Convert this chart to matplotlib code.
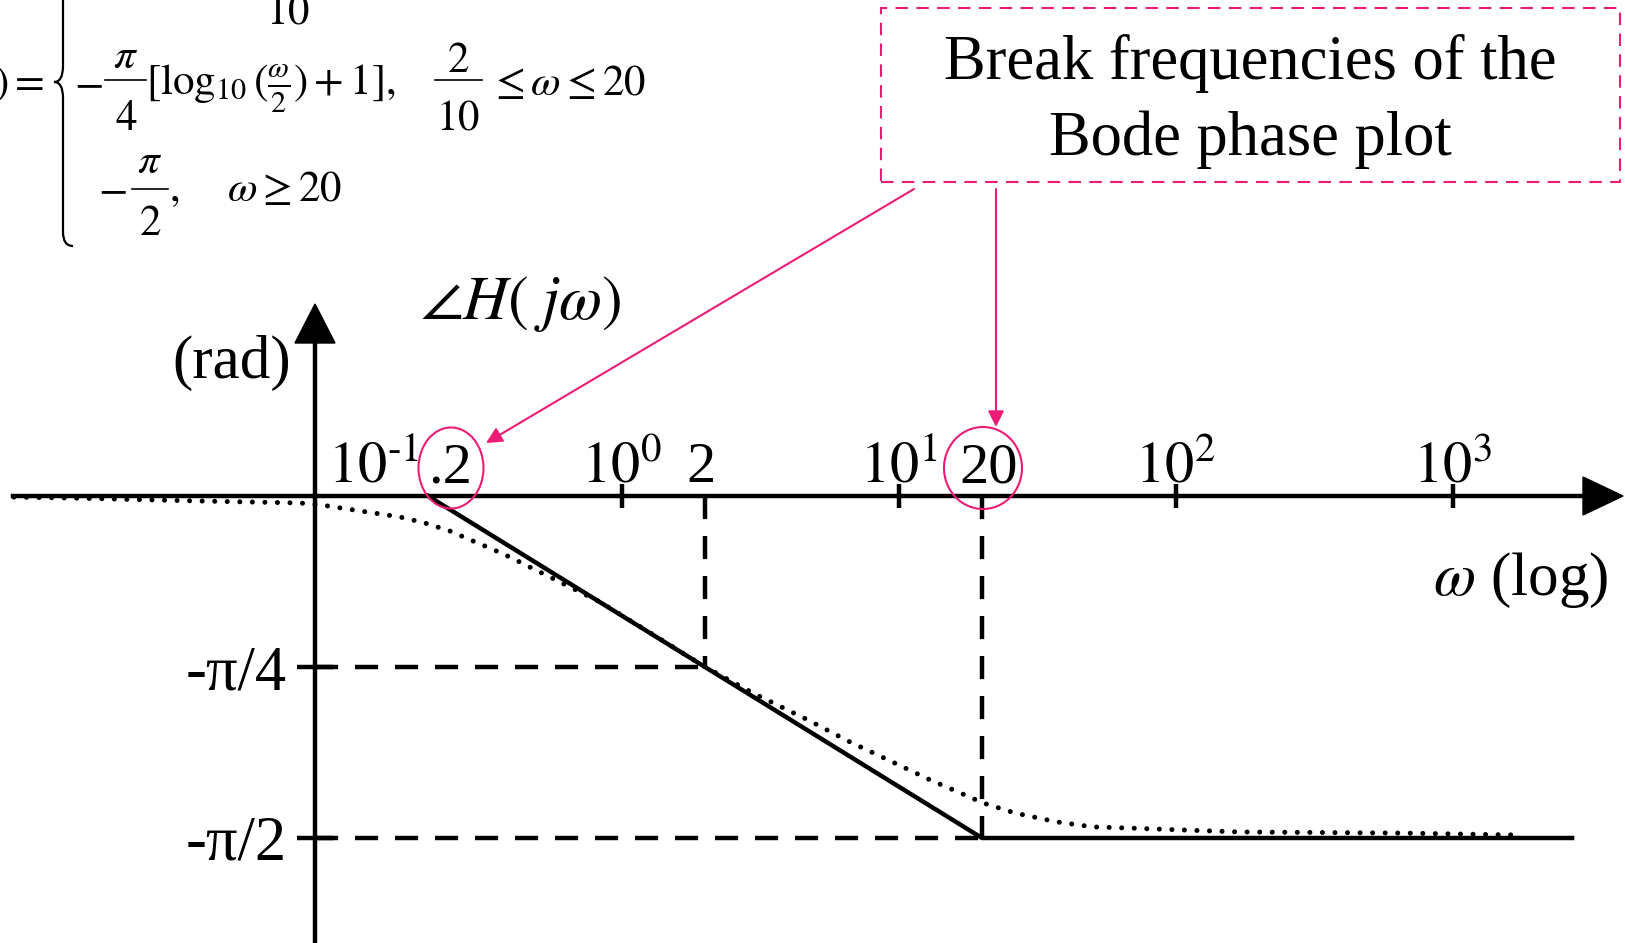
import numpy as np
import matplotlib.pyplot as plt
from matplotlib.ticker import NullLocator
from matplotlib.transforms import offset_copy
from matplotlib.lines import Line2D
from matplotlib.patches import Ellipse, Rectangle, Polygon, FancyArrowPatch, PathPatch
from matplotlib.path import Path

plt.rcParams['font.family'] = ['Liberation Serif', 'DejaVu Serif']
plt.rcParams['mathtext.fontset'] = 'stix'

# break frequencies of the phase plot and the straight-line approximation
w_break = [0.2, 2, 20]
w_asym = [0.2, 20, 2700]
phase_asym = [0, -np.pi / 2, -np.pi / 2]

# exact phase curve (dotted)
w_exact = [0.0064, 0.01, 0.03, 0.069, 0.082, 0.12, 0.158, 0.195, 0.24, 0.291,
           0.34, 0.402, 0.474, 0.561, 0.836, 1.27, 2.0, 2.98, 4.71, 6.56,
           9.16, 13.0, 16.7, 20.2, 26.3, 37.3, 50.3, 67.4, 169, 640, 1720]
phase_exact = [-0.005, -0.009, -0.023, -0.032, -0.041, -0.073, -0.096, -0.124,
               -0.161, -0.207, -0.243, -0.285, -0.331, -0.377, -0.487, -0.629,
               -0.785, -0.905, -1.029, -1.125, -1.212, -1.304, -1.364, -1.410,
               -1.456, -1.497, -1.520, -1.525, -1.543, -1.548, -1.557]

# axis ticks
w_ticks = [1, 10, 100, 1000]
phase_ticks = [-np.pi / 4, -np.pi / 2]
phase_labels = ['-\u03c0/4', '-\u03c0/2']
x_labels = [(0.1, '$10^{\u20101}$', 'left', -17),
            (0.2, '.2', 'left', 0),
            (1, r'$10^{0}$', 'center', 0),
            (2, '2', 'center', -4),
            (10, r'$10^{1}$', 'center', 0),
            (20, '20', 'center', 7),
            (100, r'$10^{2}$', 'center', 0),
            (1000, r'$10^{3}$', 'center', 0)]

PINK = '#EC1C74'
W, H, DPI = 1625, 943, 100
LW = 3.2
EQ_FS = 31

# pixel layout: one decade = 277 px, w=0.2 sits at column 428, zero phase at row 496
decade_px = 277
x_w02 = 428
y_zero = 496
rad_px = 171 / (np.pi / 4)


def fig_xy(x, y):
    # pixel position (top-left origin) -> figure fraction
    return (x / W, 1 - y / H)


def w_at(x):
    return 0.2 * 10 ** ((x - x_w02) / decade_px)


def ph_at(y):
    return (y_zero - y) / rad_px


def put(x, y, s, ha='left', fs=EQ_FS):
    fig.text(*fig_xy(x, y), s, ha=ha, va='baseline', fontsize=fs)


def bar(x0, x1, y):
    fig.add_artist(Line2D([x0 / W, x1 / W], [1 - y / H] * 2, color='black', lw=1.2,
                          transform=fig.transFigure))


fig = plt.figure(figsize=(W / DPI, H / DPI), dpi=DPI)
ax = fig.add_axes([0, 0, 1, 1])
ax.set_xscale('log')
ax.set_xlim(w_at(0), w_at(W))
ax.set_ylim(ph_at(H), ph_at(0))

w_vaxis = w_at(315)

# axes drawn through the middle of the plot
for s in ['top', 'right']:
    ax.spines[s].set_visible(False)
ax.spines['bottom'].set_position(('data', 0))
ax.spines['left'].set_position(('data', w_vaxis))
ax.spines['bottom'].set_bounds(w_at(13), w_at(1590))
ax.spines['left'].set_bounds(ph_at(H), ph_at(345))
for s in ['bottom', 'left']:
    ax.spines[s].set_linewidth(LW)

ax.set_xticks(w_ticks)
ax.xaxis.set_minor_locator(NullLocator())
ax.tick_params(axis='x', direction='inout', length=17, width=LW, labelbottom=False)
ax.set_yticks(phase_ticks, phase_labels)
ax.tick_params(axis='y', direction='inout', length=26, width=LW, labelsize=45, pad=7)

# arrow heads on the axes
fig.add_artist(Polygon([fig_xy(1583, 477), fig_xy(1623, 496), fig_xy(1583, 515)],
                       closed=True, color='black', transform=fig.transFigure))
fig.add_artist(Polygon([fig_xy(295, 343), fig_xy(315, 304), fig_xy(335, 343)],
                       closed=True, color='black', transform=fig.transFigure))

# guide lines at the break frequencies
dash = (0, (5.2, 3.8))
ax.plot([w_vaxis, w_break[1]], [phase_ticks[0]] * 2, color='black', lw=LW, ls=dash)
ax.plot([w_vaxis, w_break[2]], [phase_ticks[1]] * 2, color='black', lw=LW, ls=dash)
ax.plot([w_break[1]] * 2, [0, phase_ticks[0]], color='black', lw=LW, ls=dash)
ax.plot([w_break[2]] * 2, [0, phase_ticks[1]], color='black', lw=LW, ls=dash)

# straight-line approximation and exact phase
ax.plot(w_asym, phase_asym, color='black', lw=LW, solid_joinstyle='miter')
ax.plot(w_exact, phase_exact, color='black', lw=3.6, ls=(0, (0.01, 2.5)),
        dash_capstyle='round')

# decade / break labels above the axis
for w, lab, ha, dx in x_labels:
    tr = offset_copy(ax.transData, fig=fig, x=dx, y=14, units='dots')
    ax.text(w, 0, lab, ha=ha, va='baseline', fontsize=42, transform=tr)

# axis titles
put(420, 319, r'$\angle H(\;j\omega)$', fs=45)
put(232, 378, '(rad)', ha='center', fs=44)
put(1608, 595, r'$\omega$ (log)', ha='right', fs=44)

# piecewise phase expression in the corner
put(288, 23, '$10$', ha='center')
put(44, 95, r'$)=$', ha='right')

put(74, 95, '$-$')
put(126, 68, r'$\pi$', ha='center')
bar(105, 146, 80)
put(126, 130, '$4$', ha='center')
put(146, 95, r'$[\log_{10}(\frac{\omega}{2})+1],$')
put(458, 72, '$2$', ha='center')
bar(435, 482, 80)
put(458, 130, '$10$', ha='center')
put(489, 95, r'$\leq\omega\leq 20$')

put(98, 201, '$-$')
put(150, 173, r'$\pi$', ha='center')
bar(132, 168, 189)
put(150, 235, '$2$', ha='center')
put(169, 201, '$,$')
put(227, 201, r'$\omega\geq 20$')

brace = Path([fig_xy(72, -80), fig_xy(63, -80), fig_xy(63, -66),
              fig_xy(63, 66),
              fig_xy(63, 82), fig_xy(54, 82),
              fig_xy(63, 82), fig_xy(63, 98),
              fig_xy(63, 232),
              fig_xy(63, 246), fig_xy(73, 246)],
             [Path.MOVETO, Path.CURVE3, Path.CURVE3,
              Path.LINETO,
              Path.CURVE3, Path.CURVE3,
              Path.CURVE3, Path.CURVE3,
              Path.LINETO,
              Path.CURVE3, Path.CURVE3])
fig.add_artist(PathPatch(brace, fill=False, lw=1.6, color='black', transform=fig.transFigure))

# callout box pointing at the break frequencies
fig.add_artist(Rectangle(fig_xy(881, 182), (1620 - 881) / W, (182 - 8) / H, fill=False,
                         ec=PINK, lw=1.5, ls=(0, (6, 4)), transform=fig.transFigure))
put(1250, 79, 'Break frequencies of the', ha='center', fs=45)
put(1250, 155, 'Bode phase plot', ha='center', fs=45)

fig.add_artist(Ellipse(fig_xy(451, 468), 65 / W, 81 / H, fill=False, ec=PINK, lw=1.5,
                       transform=fig.transFigure))
fig.add_artist(Ellipse(fig_xy(983, 468), 78 / W, 82 / H, fill=False, ec=PINK, lw=1.5,
                       transform=fig.transFigure))

for start, end in [((914, 189), (486, 443)), ((996, 189), (996, 427))]:
    fig.add_artist(FancyArrowPatch(fig_xy(*start), fig_xy(*end), arrowstyle='-|>',
                                   mutation_scale=24, color=PINK, lw=1.5,
                                   shrinkA=0, shrinkB=0, transform=fig.transFigure))

fig.savefig('out.png', dpi=DPI)
